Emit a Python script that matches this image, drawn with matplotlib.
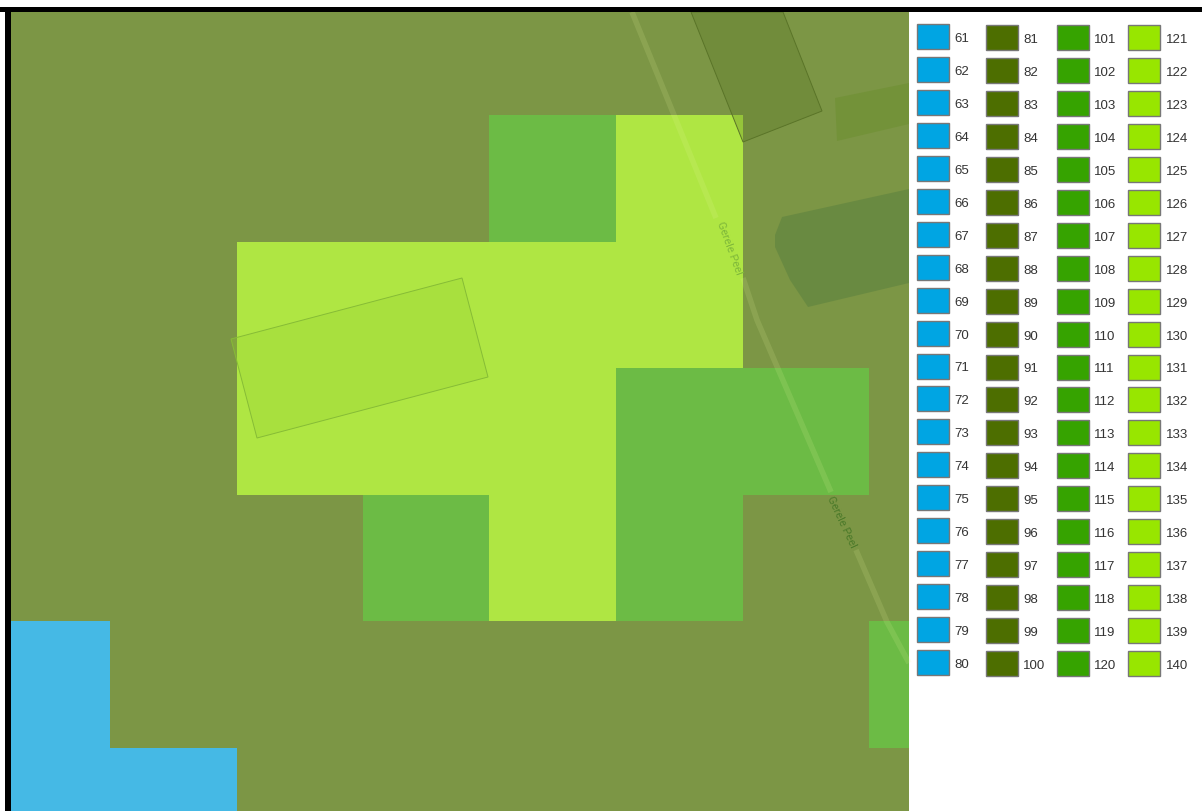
import numpy as np
import matplotlib
matplotlib.use('Agg')
import matplotlib.pyplot as plt
from matplotlib.colors import ListedColormap
from matplotlib.patches import Polygon, Rectangle

# Grid cell edges of the map, in image pixels
x_edges = [11, 110, 237, 363, 489, 616, 743, 869, 909]
y_edges = [12, 115, 242, 368, 495, 621, 748, 813]

# Class of each cell: 0 blue, 1 olive, 2 green, 3 light green
cells = [
    [1, 1, 1, 1, 1, 1, 1, 1],
    [1, 1, 1, 1, 2, 3, 1, 1],
    [1, 1, 3, 3, 3, 3, 1, 1],
    [1, 1, 3, 3, 3, 2, 2, 1],
    [1, 1, 1, 2, 3, 2, 1, 1],
    [0, 1, 1, 1, 1, 1, 1, 2],
    [0, 0, 1, 1, 1, 1, 1, 1],
]
cell_colors = ['#45B9E5', '#7C9645', '#6CBB45', '#AFE643']

# Legend
legend_labels = [
    [str(v) for v in range(61, 81)],
    [str(v) for v in range(81, 101)],
    [str(v) for v in range(101, 121)],
    [str(v) for v in range(121, 141)],
]
legend_colors = ['#00A5E3', '#4D6E00', '#36A300', '#98E600']
swatch_x = [917, 986, 1057, 1128]
swatch_y0 = [24, 25, 25, 25]
label_x = [954, 1023, 1094, 1166]

# Base map shapes that show through the overlay
building_top = [(691, 12), (783, 12), (822, 111), (743, 142)]
building_left = [(231, 339), (462, 278), (488, 377), (257, 438)]
patch_small = [(835, 98), (909, 83), (909, 124), (837, 141)]
patch_large = [(782, 217), (909, 189), (909, 283), (808, 307), (790, 280), (775, 247), (775, 235)]
# road, broken where its name is written
road_x = [632, 716, np.nan, 743, 757, 831, np.nan, 856, 887, 909]
road_y = [12, 218, np.nan, 278, 320, 492, np.nan, 550, 622, 663]

plt.rcParams['font.family'] = ['Liberation Sans', 'DejaVu Sans']

fig = plt.figure(figsize=(12.02, 8.12), dpi=100)
ax = fig.add_axes([0, 0, 1, 1])
ax.set_xlim(0, 1202)
ax.set_ylim(811, -1)
ax.axis('off')

ax.pcolormesh(x_edges, y_edges, np.array(cells), cmap=ListedColormap(cell_colors),
              vmin=-0.5, vmax=3.5, zorder=1)

# Base map features
ax.add_patch(Polygon(patch_large, closed=True, fc='#3F6F3A', ec='none', alpha=0.3, zorder=2))
ax.add_patch(Polygon(patch_small, closed=True, fc='#5F8A1E', ec='none', alpha=0.3, zorder=2))
ax.add_patch(Polygon(building_top, closed=True, fc='#5A7826', ec='none', alpha=0.3, zorder=2))
ax.add_patch(Polygon(building_top, closed=True, fc='none', ec='#5A7428', lw=0.7, zorder=2))
ax.add_patch(Polygon(building_left, closed=True, fc='#96D030', ec='none', alpha=0.25, zorder=2))
ax.add_patch(Polygon(building_left, closed=True, fc='none', ec='#86BC36', lw=0.7, zorder=2))
ax.plot(road_x, road_y, color='#E8F8A0', lw=4, alpha=0.14, solid_capstyle='butt', zorder=3)

ax.text(729, 247, 'Gerele Peel', fontsize=8, family='Roboto', color='#7FB83A', rotation=-70,
        ha='center', va='center', rotation_mode='anchor', zorder=4)
ax.text(842, 521, 'Gerele Peel', fontsize=8, family='Roboto', color='#4C7A2A', rotation=-65,
        ha='center', va='center', rotation_mode='anchor', zorder=4)

# Black frame of the page, top and left
ax.add_patch(Rectangle((0, 7), 1202, 5, fc='black', ec='none', zorder=5))
ax.add_patch(Rectangle((5, 7), 6, 806, fc='black', ec='none', zorder=5))

# Legend columns
for col, labels in enumerate(legend_labels):
    for i, lab in enumerate(labels):
        y = swatch_y0[col] + i * 32.95
        ax.add_patch(Rectangle((swatch_x[col], y), 32, 25, fc=legend_colors[col],
                               ec='#777777', lw=1, zorder=6))
        ax.text(label_x[col], y + 14, lab, fontsize=9.5, color='#333333',
                ha='left', va='center', zorder=6)

fig.savefig('out.png', dpi=100)
